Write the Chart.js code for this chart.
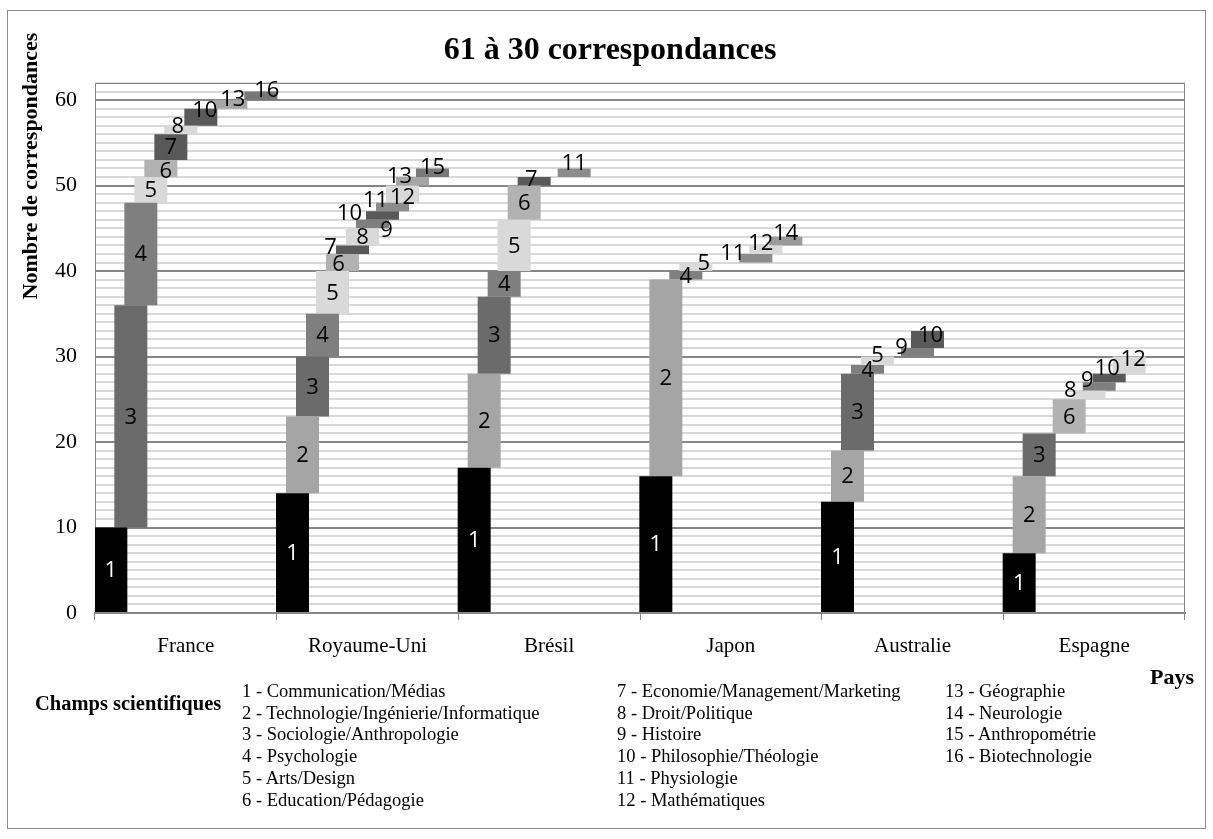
<!DOCTYPE html>
<html lang="fr">
<head>
  <meta charset="UTF-8" />
  <title>61 à 30 correspondances</title>
  <script src="https://cdn.jsdelivr.net/npm/chart.js"></script>
  <style>
    html, body { margin: 0; padding: 0; background: #fff; }
    .wrap { position: relative; width: 1213px; height: 839px; }
    .frame { position: absolute; left: 7px; top: 10px; width: 1199px; height: 819px;
             border: 1px solid #8c8c8c; box-sizing: border-box; pointer-events: none; }
    #chart { position: absolute; left: 0; top: 0; }
    .legend { position: absolute; font-family: "Liberation Serif", "Times New Roman", serif;
              font-size: 18.5px; line-height: 21.7px; color: #000; white-space: nowrap; }
    .legend-title { font-weight: bold; font-size: 20.5px; }
  </style>
</head>
<body>
<div class="wrap">
  <canvas id="chart" width="1213" height="839"></canvas>
  <div class="frame"></div>

  <!-- legende -->
  <div class="legend legend-title" style="left:35px; top:693px;">Champs scientifiques</div>
  <div class="legend" id="col1" style="left:242px; top:681px;"></div>
  <div class="legend" id="col2" style="left:617px; top:681px;"></div>
  <div class="legend" id="col3" style="left:945px; top:681px;"></div>
</div>

<script>
  // pays (axe des x)
  const pays = ['France', 'Royaume-Uni', 'Brésil', 'Japon', 'Australie', 'Espagne'];

  // champs scientifiques, numérotés 1 à 16
  const champs = [
    'Communication/Médias', 'Technologie/Ingénierie/Informatique', 'Sociologie/Anthropologie',
    'Psychologie', 'Arts/Design', 'Education/Pédagogie', 'Economie/Management/Marketing',
    'Droit/Politique', 'Histoire', 'Philosophie/Théologie', 'Physiologie', 'Mathématiques',
    'Géographie', 'Neurologie', 'Anthropométrie', 'Biotechnologie'
  ];

  // nombre de correspondances par champ (1 à 16) pour chaque pays
  const france     = [10, 0, 26, 12, 3, 2, 3, 1, 0, 2, 0, 0, 1, 0, 0, 1];
  const royaumeUni = [14, 9, 7, 5, 5, 2, 1, 2, 1, 1, 1, 2, 1, 0, 1, 0];
  const bresil     = [17, 11, 9, 3, 6, 4, 1, 0, 0, 0, 1, 0, 0, 0, 0, 0];
  const japon      = [16, 23, 0, 1, 1, 0, 0, 0, 0, 0, 1, 1, 0, 1, 0, 0];
  const australie  = [13, 6, 9, 1, 1, 0, 0, 0, 1, 2, 0, 0, 0, 0, 0, 0];
  const espagne    = [7, 9, 5, 0, 0, 4, 0, 1, 1, 1, 0, 2, 0, 0, 0, 0];

  // graduations étiquetées de l'axe des y
  const yTicks = [0, 10, 20, 30, 40, 50, 60];

  const couleurs = ['#000000', '#a5a5a5', '#6b6b6b', '#7f7f7f', '#d9d9d9', '#b2b2b2', '#595959', '#d9d9d9',
                    '#7f7f7f', '#595959', '#8c8c8c', '#d9d9d9', '#a6a6a6', '#9a9a9a', '#787878', '#787878'];

  // étiquettes déplacées à la main (pays-champ : [dx, dy] en px)
  const decalages = {
    '0-6': [5, 2], '0-8': [-3, -4], '0-10': [4, -7], '0-13': [2, -6], '0-16': [6, -6],
    '1-6': [-4, 1], '1-7': [-22, -3], '1-9': [14, 6], '1-10': [-33, -3], '1-11': [-17, -7],
    '1-12': [0, 3], '1-13': [-13, -6], '1-15': [0, -6],
    '2-7': [-3, -3], '2-11': [0, -10],
    '3-5': [8, -4], '3-11': [-23, -6], '3-12': [-5, -7], '3-14': [0, -8],
    '4-5': [0, -6], '4-9': [-16, -6], '4-10': [3, -5],
    '5-8': [-19, -5], '5-9': [-12, -7], '5-10': [-2, -10], '5-12': [4, -6]
  };

  const serif = '"Liberation Serif", "Times New Roman", serif';

  // barres flottantes : chaque champ commence là où s'arrête le précédent
  const parPays = [france, royaumeUni, bresil, japon, australie, espagne];
  const cumul = parPays.map(() => 0);
  const datasets = champs.map((nom, i) => {
    const data = parPays.map((serie, p) => {
      const n = serie[i];
      if (!n) return null;
      const seg = [cumul[p], cumul[p] + n];
      cumul[p] += n;
      return seg;
    });
    return {
      label: (i + 1) + ' - ' + nom,
      data,
      backgroundColor: couleurs[i],
      borderWidth: 0,
      categoryPercentage: 0.8807,
      barPercentage: 3.3
    };
  });

  // legende en 3 colonnes
  const cols = [[0, 6], [6, 12], [12, 16]];
  cols.forEach(([a, b], k) => {
    document.getElementById('col' + (k + 1)).innerHTML =
      champs.slice(a, b).map((c, j) => (a + j + 1) + ' - ' + c).join('<br>');
  });

  // cadre de la zone de tracé
  const cadre = {
    id: 'cadre',
    beforeDatasetsDraw(chart) {
      const { ctx, chartArea: a } = chart;
      ctx.save();
      ctx.strokeStyle = '#868686';
      ctx.lineWidth = 1;
      ctx.strokeRect(a.left + 0.5, a.top + 0.5, a.right - a.left - 1, a.bottom - a.top);
      ctx.restore();
    }
  };

  // numéros des champs sur les barres
  const etiquettes = {
    id: 'etiquettes',
    afterDatasetsDraw(chart) {
      const ctx = chart.ctx;
      ctx.save();
      ctx.font = '22px "Open Sans", Lato, sans-serif';
      ctx.textAlign = 'center';
      ctx.textBaseline = 'middle';
      chart.data.datasets.forEach((ds, i) => {
        chart.getDatasetMeta(i).data.forEach((bar, p) => {
          if (!ds.data[p]) return;
          const [dx, dy] = decalages[p + '-' + (i + 1)] || [0, 0];
          ctx.fillStyle = i === 0 ? '#ffffff' : '#000000';
          ctx.fillText(String(i + 1), bar.x + dx, (bar.y + bar.base) / 2 + 1 + dy);
        });
      });
      ctx.restore();
    }
  };

  // titres
  const titres = {
    id: 'titres',
    afterDraw(chart) {
      const ctx = chart.ctx;
      ctx.save();
      ctx.fillStyle = '#000';
      ctx.textBaseline = 'middle';
      ctx.textAlign = 'center';
      ctx.font = 'bold 32px ' + serif;
      ctx.fillText('61 à 30 correspondances', 610, 51);
      ctx.font = 'bold 22px ' + serif;
      ctx.fillText('Pays', 1172, 678);
      ctx.translate(31, 166);
      ctx.rotate(-Math.PI / 2);
      ctx.fillText('Nombre de correspondances', 0, 0);
      ctx.restore();
    }
  };

  new Chart(document.getElementById('chart'), {
    type: 'bar',
    data: { labels: pays, datasets },
    options: {
      responsive: false,
      animation: false,
      layout: { padding: { left: 35, top: 83, right: 28, bottom: 166 } },
      plugins: { legend: { display: false }, tooltip: { enabled: false } },
      scales: {
        x: {
          grid: { drawOnChartArea: false, color: '#868686', tickLength: 7 },
          border: { color: '#868686', width: 2 },
          ticks: { font: { family: serif, size: 21 }, color: '#000', padding: 14 },
          afterFit: s => { s.height = 60; }
        },
        y: {
          min: 0,
          max: 62,
          ticks: {
            stepSize: 1,
            autoSkip: false,
            callback: v => yTicks.includes(v) ? v : '',
            font: { family: serif, size: 22 },
            color: '#000',
            padding: 18
          },
          grid: {
            drawTicks: false,
            color: c => c.tick.value % 10 === 0 ? '#868686' : '#d9d9d9',
            lineWidth: 2
          },
          border: { color: '#868686', width: 1 },
          afterFit: s => { s.width = 60; }
        }
      }
    },
    plugins: [cadre, etiquettes, titres]
  });
</script>
</body>
</html>
